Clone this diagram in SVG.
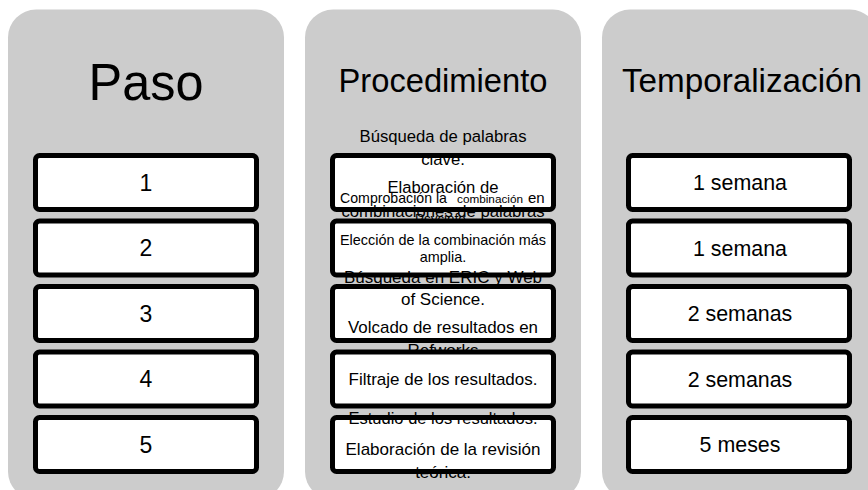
<svg xmlns="http://www.w3.org/2000/svg" width="868" height="490" viewBox="0 0 868 490">
<style>
.panel{fill:#CCCCCC}
.box{fill:#FFFFFF;stroke:#000000;stroke-width:5}
text{font-family:"Liberation Sans",Arial,sans-serif;fill:#000000}
.hdr{font-size:32.7px;text-anchor:middle}
.big{font-size:52px;text-anchor:middle}
.num{font-size:23px;text-anchor:middle}
.dur{font-size:21.4px;text-anchor:middle}
.t17{font-size:17px;text-anchor:middle}
.t167{font-size:16.7px;text-anchor:middle}
.t144{font-size:14.4px;text-anchor:middle}
</style>
<rect width="868" height="490" fill="#FFFFFF"/>
<g id="panel-paso">
<rect class="panel" x="8" y="9.5" width="276" height="490" rx="28"/>
<text class="big" x="146" y="100" textLength="115" lengthAdjust="spacingAndGlyphs">Paso</text>
</g>
<g id="panel-procedimiento">
<rect class="panel" x="305" y="9.5" width="276" height="490" rx="28"/>
<text class="hdr" x="443" y="92">Procedimiento</text>
</g>
<g id="panel-temporalizacion">
<rect class="panel" x="602" y="9.5" width="276" height="490" rx="28"/>
<text class="hdr" x="742" y="92" textLength="240" lengthAdjust="spacingAndGlyphs">Temporalización</text>
</g>
<g id="paso-1"><rect class="box" x="35.5" y="155.5" width="221" height="54" rx="4"/><text class="num" x="146" y="190.7">1</text></g>
<g id="paso-2"><rect class="box" x="35.5" y="221" width="221" height="54" rx="4"/><text class="num" x="146" y="256.2">2</text></g>
<g id="paso-3"><rect class="box" x="35.5" y="286.5" width="221" height="54" rx="4"/><text class="num" x="146" y="321.7">3</text></g>
<g id="paso-4"><rect class="box" x="35.5" y="352" width="221" height="54" rx="4"/><text class="num" x="146" y="387.2">4</text></g>
<g id="paso-5"><rect class="box" x="35.5" y="417.5" width="221" height="54" rx="4"/><text class="num" x="146" y="452.7">5</text></g>
<g id="proc-1">
<rect class="box" x="332.5" y="155.5" width="221" height="54" rx="4"/>
<text class="t167" x="443" y="142" textLength="167" lengthAdjust="spacingAndGlyphs">Búsqueda de palabras</text>
<text class="t167" x="443" y="165">clave.</text>
<text class="t167" x="443" y="193" textLength="111" lengthAdjust="spacingAndGlyphs">Elaboración de</text>
<text class="t167" x="443" y="217" textLength="203" lengthAdjust="spacingAndGlyphs">combinaciones de palabras</text>
<text x="340" y="203" font-size="14.2" textLength="107" lengthAdjust="spacingAndGlyphs">Comprobación la</text>
<text x="457" y="203" font-size="11.8" textLength="66" lengthAdjust="spacingAndGlyphs">combinación</text>
<text x="528" y="203" font-size="15">en</text>
<text x="415" y="224" font-size="14.2" textLength="62" lengthAdjust="spacingAndGlyphs">Psycinfo.   .</text>
</g>
<g id="proc-2">
<rect class="box" x="332.5" y="221" width="221" height="54" rx="4"/>
<text class="t144" x="443" y="245" textLength="206" lengthAdjust="spacingAndGlyphs">Elección de la combinación más</text>
<text class="t144" x="443" y="262">amplia.</text>
</g>
<g id="proc-3">
<rect class="box" x="332.5" y="286.5" width="221" height="54" rx="4"/>
<text class="t17" x="443" y="283">Búsqueda en ERIC y Web</text>
<text class="t17" x="443" y="305">of Science.</text>
<text class="t17" x="443" y="333" textLength="190" lengthAdjust="spacingAndGlyphs">Volcado de resultados en</text>
<text class="t17" x="443" y="356">Refworks</text>
</g>
<g id="proc-4">
<rect class="box" x="332.5" y="352" width="221" height="54" rx="4"/>
<text class="t17" x="443" y="385" textLength="189" lengthAdjust="spacingAndGlyphs">Filtraje de los resultados.</text>
</g>
<g id="proc-5">
<rect class="box" x="332.5" y="417.5" width="221" height="54" rx="4"/>
<text class="t17" x="443" y="424" textLength="189" lengthAdjust="spacingAndGlyphs">Estudio de los resultados.</text>
<text class="t17" x="443" y="455" textLength="195" lengthAdjust="spacingAndGlyphs">Elaboración de la revisión</text>
<text class="t17" x="443" y="478">teórica.</text>
</g>
<g id="tiempo-1"><rect class="box" x="628.5" y="155.5" width="221" height="54" rx="4"/><text class="dur" x="740" y="190">1 semana</text></g>
<g id="tiempo-2"><rect class="box" x="628.5" y="221" width="221" height="54" rx="4"/><text class="dur" x="740" y="255.5">1 semana</text></g>
<g id="tiempo-3"><rect class="box" x="628.5" y="286.5" width="221" height="54" rx="4"/><text class="dur" x="740" y="321">2 semanas</text></g>
<g id="tiempo-4"><rect class="box" x="628.5" y="352" width="221" height="54" rx="4"/><text class="dur" x="740" y="386.5">2 semanas</text></g>
<g id="tiempo-5"><rect class="box" x="628.5" y="417.5" width="221" height="54" rx="4"/><text class="dur" x="740" y="452">5 meses</text></g>
</svg>
